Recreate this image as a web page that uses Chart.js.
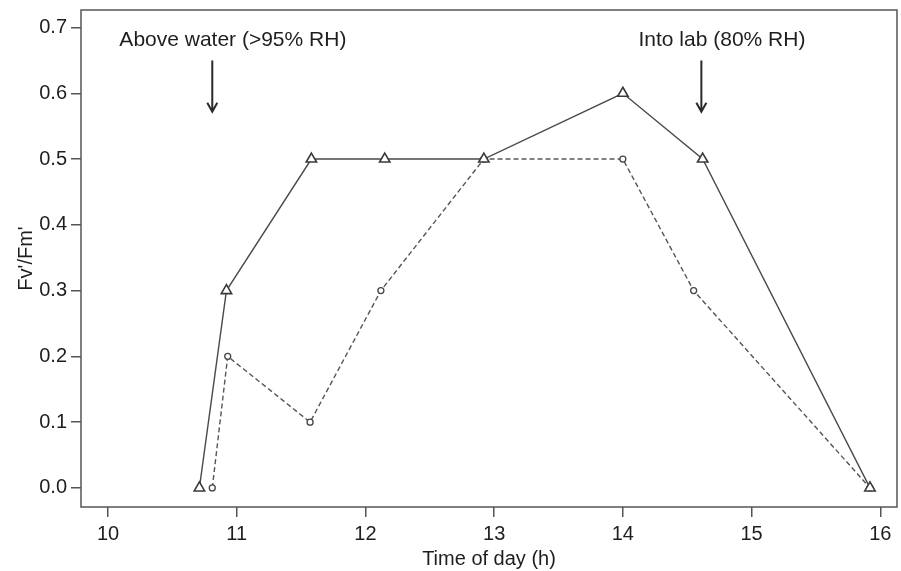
<!DOCTYPE html>
<html>
<head>
<meta charset="utf-8">
<script src="https://cdn.jsdelivr.net/npm/chart.js@4/dist/chart.umd.min.js"></script>
<style>
    html, body { margin: 0; padding: 0; background: #fff; }
    #wrap { width: 901px; height: 571px; }
</style>
</head>
<body>
<div id="wrap"><canvas id="grafico"></canvas></div>
<script>
// Datos (hora del día y Fv'/Fm')
const horaTriangulos = [10.71, 10.92, 11.58, 12.15, 12.92, 14.0, 14.62, 15.92];
const valorTriangulos = [0.0, 0.3, 0.5, 0.5, 0.5, 0.6, 0.5, 0.0];
const horaCirculos = [10.81, 10.93, 11.57, 12.12, 12.92, 14.0, 14.55, 15.92];
const valorCirculos = [0.0, 0.2, 0.1, 0.3, 0.5, 0.5, 0.3, 0.0];

// Marcas de los ejes
const ticksX = [10, 11, 12, 13, 14, 15, 16];
const ticksY = [0.0, 0.1, 0.2, 0.3, 0.4, 0.5, 0.6, 0.7];

// Notas con flecha
const notaTextos = ['Above water (>95% RH)', 'Into lab (80% RH)'];
const notaHoras = [10.81, 14.61];
const notaHorasTexto = [10.97, 14.77];

const fuente = '"Liberation Sans", Arial, Helvetica, sans-serif';
const colorTexto = '#1e1e1e';

// Convierte dos arrays en puntos {x, y}
function unirPuntos(xs, ys) {
    return xs.map((x, i) => ({ x: x, y: ys[i] }));
}

// Plugin: marco del gráfico y notas con flechas
const marcoYNotas = {
    id: 'marcoYNotas',
    afterDraw(chart) {
        const ctx = chart.ctx;
        const area = chart.chartArea;
        const sx = chart.scales.x;
        const sy = chart.scales.y;

        ctx.save();
        ctx.strokeStyle = '#555';
        ctx.lineWidth = 1.5;
        ctx.strokeRect(area.left, area.top, area.right - area.left, area.bottom - area.top);

        ctx.font = '21px ' + fuente;
        ctx.fillStyle = colorTexto;
        ctx.textAlign = 'center';
        ctx.textBaseline = 'middle';
        notaTextos.forEach((texto, i) => {
            ctx.fillText(texto, sx.getPixelForValue(notaHorasTexto[i]), sy.getPixelForValue(0.68));

            const xf = sx.getPixelForValue(notaHoras[i]);
            const y0 = sy.getPixelForValue(0.65);
            const y1 = sy.getPixelForValue(0.572);
            ctx.strokeStyle = '#2a2a2a';
            ctx.lineWidth = 2;
            ctx.beginPath();
            ctx.moveTo(xf, y0);
            ctx.lineTo(xf, y1);
            ctx.moveTo(xf - 5, y1 - 9);
            ctx.lineTo(xf, y1);
            ctx.lineTo(xf + 5, y1 - 9);
            ctx.stroke();
        });
        ctx.restore();
    }
};

const ctx = document.getElementById('grafico').getContext('2d');

new Chart(ctx, {
    type: 'scatter',
    data: {
        datasets: [
            {
                label: 'triangulos',
                data: unirPuntos(horaTriangulos, valorTriangulos),
                showLine: true,
                borderColor: '#4a4a4a',
                borderWidth: 1.4,
                pointStyle: 'triangle',
                pointRadius: 6,
                pointBorderWidth: 1.6,
                pointBorderColor: '#3a3a3a',
                pointBackgroundColor: '#fff',
                order: 1
            },
            {
                label: 'circulos',
                data: unirPuntos(horaCirculos, valorCirculos),
                showLine: true,
                borderColor: '#555',
                borderWidth: 1.4,
                borderDash: [5, 3],
                pointStyle: 'circle',
                pointRadius: 3,
                pointBorderWidth: 1.3,
                pointBorderColor: '#444',
                pointBackgroundColor: '#fff',
                order: 2
            }
        ]
    },
    options: {
        responsive: true,
        maintainAspectRatio: false,
        animation: false,
        layout: { autoPadding: false, padding: { top: 10, right: 4, left: 0, bottom: 0 } },
        plugins: {
            legend: { display: false },
            tooltip: { enabled: false }
        },
        scales: {
            x: {
                type: 'linear',
                min: 9.79,
                max: 16.13,
                afterBuildTicks: (scale) => { scale.ticks = ticksX.map(v => ({ value: v })); },
                afterFit: (scale) => {
                    scale.height = 64;
                    scale.paddingLeft = 0;
                    scale.paddingRight = 0;
                },
                border: { display: false },
                grid: { drawOnChartArea: false, drawTicks: true, tickLength: 10, color: '#555', lineWidth: 1.5 },
                ticks: { color: colorTexto, font: { family: fuente, size: 20 }, padding: 5, maxRotation: 0 },
                title: { display: true, text: 'Time of day (h)', color: colorTexto, font: { family: fuente, size: 20 }, padding: { top: 0, bottom: 0 } }
            },
            y: {
                type: 'linear',
                min: -0.029,
                max: 0.7266,
                afterBuildTicks: (scale) => { scale.ticks = ticksY.map(v => ({ value: v })); },
                afterFit: (scale) => {
                    scale.width = 81;
                    scale.paddingTop = 0;
                    scale.paddingBottom = 0;
                },
                border: { display: false },
                grid: { drawOnChartArea: false, drawTicks: true, tickLength: 10, color: '#555', lineWidth: 1.5 },
                ticks: {
                    color: colorTexto,
                    font: { family: fuente, size: 20 },
                    padding: 4,
                    callback: (v) => v.toFixed(1)
                },
                title: { display: true, text: "Fv'/Fm'", color: colorTexto, font: { family: fuente, size: 20 }, padding: { top: 14, bottom: 0 } }
            }
        }
    },
    plugins: [marcoYNotas]
});
</script>
</body>
</html>
